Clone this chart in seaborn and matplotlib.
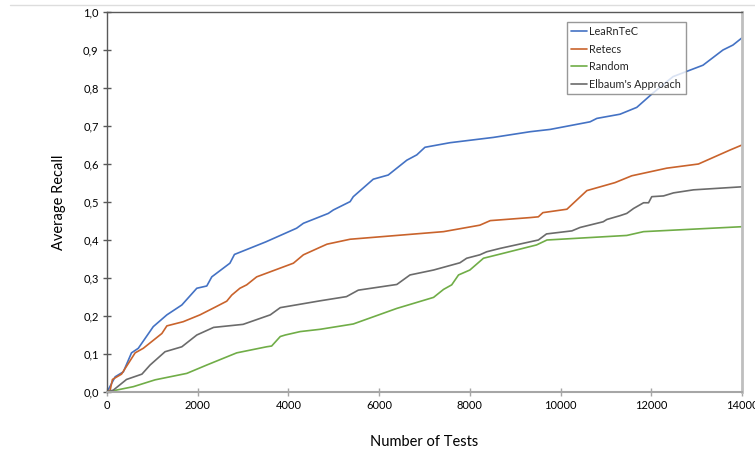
import matplotlib
matplotlib.use("Agg")
import matplotlib.pyplot as plt
import seaborn as sns
import pandas as pd
from matplotlib.ticker import FuncFormatter, FixedLocator
from matplotlib.lines import Line2D

# ---------------- data ----------------
series_names = ["LeaRnTeC", "Retecs", "Random", "Elbaum's Approach"]

learntec_x = [0, 180, 360, 540, 690, 1020, 1320, 1650, 1980, 2200, 2310, 2710, 2810, 3500,
              4180, 4330, 4880, 4990, 5360, 5430, 5870, 6200, 6610, 6830, 7010, 7560, 8520,
              9330, 9770, 10650, 10800, 11310, 11680, 12040, 12480, 13140, 13580, 13800, 14000]
learntec_y = [0, 0.04, 0.053, 0.103, 0.115, 0.172, 0.203, 0.229, 0.273, 0.279, 0.303, 0.339,
              0.362, 0.395, 0.431, 0.444, 0.47, 0.479, 0.501, 0.514, 0.56, 0.571, 0.61, 0.624,
              0.644, 0.656, 0.67, 0.685, 0.691, 0.711, 0.72, 0.731, 0.749, 0.787, 0.83, 0.86,
              0.90, 0.913, 0.932]

retecs_x = [0, 70, 120, 320, 470, 620, 800, 1210, 1320, 1680, 2050, 2380, 2640, 2750, 2930,
            3080, 3300, 4110, 4330, 4700, 4850, 5360, 7420, 8220, 8450, 9330, 9510, 9610,
            10140, 10580, 11200, 11570, 12340, 13040, 13740, 14000]
retecs_y = [0, 0.005, 0.033, 0.047, 0.075, 0.103, 0.115, 0.154, 0.174, 0.185, 0.203, 0.223,
            0.239, 0.255, 0.273, 0.282, 0.303, 0.339, 0.361, 0.381, 0.389, 0.402, 0.422, 0.439,
            0.451, 0.459, 0.461, 0.472, 0.481, 0.53, 0.551, 0.569, 0.589, 0.60, 0.637, 0.65]

random_x = [0, 580, 1060, 1760, 2200, 2860, 3520, 3630, 3820, 3930, 4260, 4700, 5430, 6390,
            7200, 7420, 7600, 7750, 8000, 8300, 8670, 9470, 9700, 11460, 11830, 14000]
random_y = [0, 0.014, 0.032, 0.049, 0.071, 0.103, 0.119, 0.121, 0.146, 0.15, 0.159, 0.165,
            0.179, 0.22, 0.249, 0.27, 0.282, 0.308, 0.321, 0.352, 0.363, 0.387, 0.40, 0.412,
            0.422, 0.435]

elbaum_x = [0, 140, 430, 770, 950, 1280, 1650, 1980, 2350, 3000, 3600, 3820, 4700, 5280,
            5540, 6390, 6680, 7200, 7780, 7930, 8220, 8370, 8670, 9510, 9690, 10250, 10430,
            10940, 11020, 11310, 11460, 11610, 11830, 11940, 12010, 12270, 12490, 12930, 14000]
elbaum_y = [0, 0.005, 0.033, 0.047, 0.071, 0.106, 0.119, 0.15, 0.17, 0.178, 0.203, 0.222,
            0.24, 0.251, 0.268, 0.283, 0.308, 0.321, 0.34, 0.352, 0.361, 0.369, 0.378, 0.40,
            0.416, 0.424, 0.433, 0.448, 0.454, 0.464, 0.47, 0.483, 0.498, 0.498, 0.514, 0.516,
            0.524, 0.532, 0.54]

x_ticks = [0, 2000, 4000, 6000, 8000, 10000, 12000, 14000]
y_ticks = [0.0, 0.1, 0.2, 0.3, 0.4, 0.5, 0.6, 0.7, 0.8, 0.9, 1.0]

colors = ["#4472C4", "#C9632C", "#70AD47", "#6B6B6B"]

# ---------------- build table ----------------
frames = []
for name, xs, ys in zip(series_names,
                        [learntec_x, retecs_x, random_x, elbaum_x],
                        [learntec_y, retecs_y, random_y, elbaum_y]):
    frames.append(pd.DataFrame({"tests": xs, "recall": ys, "method": name}))
df = pd.concat(frames, ignore_index=True)

sns.set_theme(style="white")
plt.rcParams["font.family"] = ["Lato", "DejaVu Sans"]

fig = plt.figure(figsize=(7.55, 4.76), dpi=100)
ax = fig.add_axes([107 / 755, 1 - 392 / 476, 635 / 755, 380 / 476])

sns.lineplot(data=df, x="tests", y="recall", hue="method", hue_order=series_names,
             palette=colors, ax=ax, linewidth=1.2, sort=False, estimator=None, legend=False)

ax.set_xlim(0, 14000)
ax.set_ylim(0, 1.0)
ax.xaxis.set_major_locator(FixedLocator(x_ticks))
ax.yaxis.set_major_locator(FixedLocator(y_ticks))
ax.yaxis.set_major_formatter(FuncFormatter(lambda v, p: f"{v:.1f}".replace(".", ",")))
ax.xaxis.set_major_formatter(FuncFormatter(lambda v, p: f"{int(round(v))}"))

ax.tick_params(axis="both", which="major", direction="inout", length=6, width=1,
               labelsize=8, colors="#595959", labelcolor="#000000", pad=3,
               left=True, bottom=True)
ax.tick_params(axis="x", colors="#A6A6A6", labelcolor="#000000")

for side, col, lw in [("left", "#595959", 1.0), ("top", "#595959", 1.0),
                      ("bottom", "#A6A6A6", 1.5), ("right", "#BFBFBF", 2.0)]:
    ax.spines[side].set_visible(True)
    ax.spines[side].set_color(col)
    ax.spines[side].set_linewidth(lw)

ax.set_xlabel("Number of Tests", fontsize=10.5, labelpad=17, color="#000000")
ax.set_ylabel("Average Recall", fontsize=10.5, labelpad=12, color="#000000")

handles = [Line2D([0], [0], color=c, lw=1.2) for c in colors]
leg = ax.legend(handles, series_names, loc="upper left", bbox_to_anchor=(0.724, 0.974),
                fontsize=7.8, frameon=True, fancybox=False, handlelength=1.5,
                handletextpad=0.2, borderpad=0.4, labelspacing=0.6, borderaxespad=0)
leg.get_frame().set_edgecolor("#7F7F7F")
leg.get_frame().set_linewidth(1.0)

# thin separator line at the top of the image
fig.add_artist(Line2D([10 / 755, 1.0], [1 - 5 / 476, 1 - 5 / 476],
                      transform=fig.transFigure, color="#DDDDDD", lw=1))

fig.savefig("out.png", dpi=100)
